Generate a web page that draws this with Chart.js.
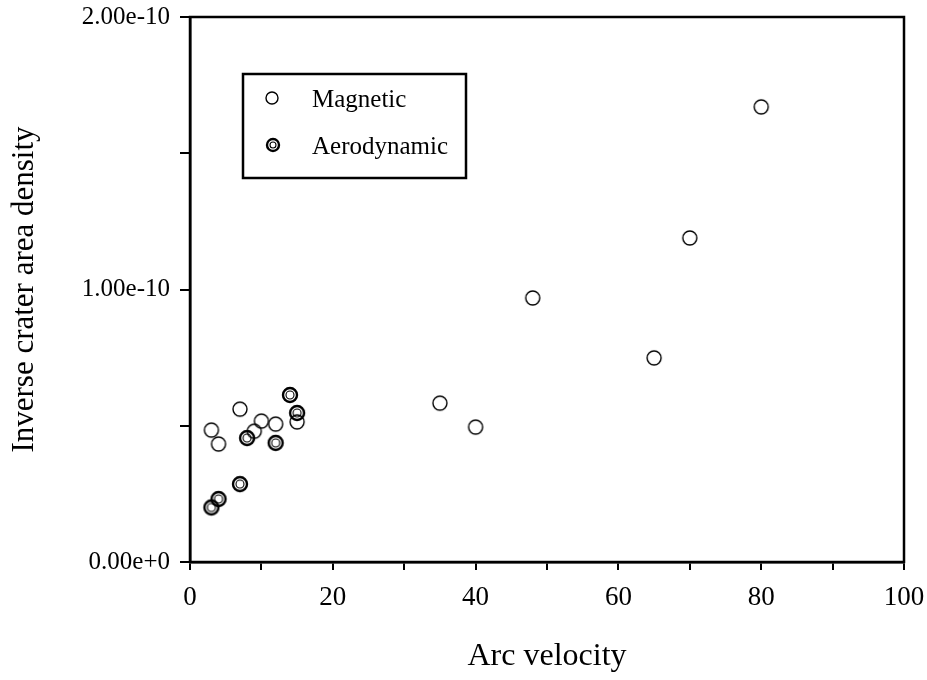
<!DOCTYPE html>
<html>
<head>
<meta charset="utf-8">
<script src="https://cdn.jsdelivr.net/npm/chart.js@4.4.0/dist/chart.umd.min.js"></script>
<style>
  html, body { margin: 0; padding: 0; background: #fff; }
  #wrap { width: 927px; height: 680px; }
</style>
</head>
<body>
<div id="wrap"><canvas id="chart" width="927" height="680"></canvas></div>
<script>
'use strict';

// data
let magneticX = [3, 4, 7, 9, 10, 12, 15, 35, 40, 48, 65, 70, 80];
let magneticY = [0.484e-10, 0.433e-10, 0.561e-10, 0.48e-10, 0.517e-10, 0.506e-10, 0.514e-10,
                 0.583e-10, 0.495e-10, 0.969e-10, 0.749e-10, 1.189e-10, 1.67e-10];
let aeroX = [3, 4, 7, 8, 12, 14, 15];
let aeroY = [0.2e-10, 0.231e-10, 0.286e-10, 0.455e-10, 0.437e-10, 0.613e-10, 0.547e-10];
let seriesNames = ['Magnetic', 'Aerodynamic'];
let yTickValues = [0, 1e-10, 2e-10];
let xTickValues = [0, 20, 40, 60, 80, 100];

let serif = '"Liberation Serif", "Times New Roman", serif';

// open ring marker; the aerodynamic one is a double ring
function ringMarker(double, r) {
  let s = Math.ceil(r * 2 + 6);
  let c = document.createElement('canvas');
  c.width = s; c.height = s;
  let g = c.getContext('2d');
  g.strokeStyle = '#000';
  g.lineWidth = double ? 2.4 : 1.4;
  g.beginPath(); g.arc(s / 2, s / 2, r, 0, Math.PI * 2); g.stroke();
  if (double) {
    g.lineWidth = 1.1;
    g.beginPath(); g.arc(s / 2, s / 2, r - 3, 0, Math.PI * 2); g.stroke();
  }
  return c;
}
let magMarker = ringMarker(false, 7);
let aeroMarker = ringMarker(true, 7);
let magLegend = ringMarker(false, 6);
let aeroLegend = ringMarker(true, 6);

function toPoints(xs, ys) {
  let pts = [];
  for (let i = 0; i < xs.length; i++) pts.push({ x: xs[i], y: ys[i] });
  return pts;
}

// box round the plot + legend box
let framePlugin = {
  id: 'frame',
  afterDraw(chart) {
    let ctx = chart.ctx;
    let a = chart.chartArea;
    ctx.save();
    ctx.strokeStyle = '#000';
    ctx.lineWidth = 2.5;
    ctx.strokeRect(a.left, a.top, a.right - a.left, a.bottom - a.top);

    // legend
    ctx.lineWidth = 2.5;
    ctx.strokeRect(243, 74, 223, 104);
    ctx.font = '25px ' + serif;
    ctx.fillStyle = '#000';
    ctx.textBaseline = 'middle';
    ctx.drawImage(magLegend, 272 - magLegend.width / 2, 98 - magLegend.height / 2);
    ctx.fillText(seriesNames[0], 312, 100);
    ctx.drawImage(aeroLegend, 273 - aeroLegend.width / 2, 145 - aeroLegend.height / 2);
    ctx.fillText(seriesNames[1], 312, 147);
    ctx.restore();
  }
};

let data = {
  datasets: [
    {
      label: seriesNames[0],
      data: toPoints(magneticX, magneticY),
      pointStyle: magMarker,
      showLine: false
    },
    {
      label: seriesNames[1],
      data: toPoints(aeroX, aeroY),
      pointStyle: aeroMarker,
      showLine: false
    }
  ]
};

let config = {
  type: 'scatter',
  data: data,
  options: {
    responsive: false,
    animation: false,
    layout: { padding: { top: 17, right: 23, left: 0, bottom: 0 } },
    plugins: {
      legend: { display: false },
      tooltip: { enabled: false }
    },
    scales: {
      x: {
        type: 'linear',
        min: 0,
        max: 100,
        afterFit(scale) {
          scale.height = 118;
          scale.paddingLeft = 0;
          scale.paddingRight = 0;
        },
        ticks: {
          stepSize: 10,
          color: '#000',
          font: { family: serif, size: 27 },
          padding: 12,
          maxRotation: 0,
          autoSkip: false,
          callback: function (v) {
            return xTickValues.indexOf(v) >= 0 ? String(v) : '';
          }
        },
        grid: { drawOnChartArea: false, tickLength: 8, color: '#000', lineWidth: 2 },
        border: { color: '#000', width: 2.5 },
        title: {
          display: true,
          text: 'Arc velocity',
          color: '#000',
          font: { family: serif, size: 32 },
          padding: { top: 0, bottom: 4 }
        }
      },
      y: {
        type: 'linear',
        min: 0,
        max: 2e-10,
        afterFit(scale) {
          scale.width = 190;
          scale.paddingTop = 0;
          scale.paddingBottom = 0;
        },
        ticks: {
          stepSize: 0.5e-10,
          color: '#000',
          font: { family: serif, size: 25 },
          padding: 10,
          autoSkip: false,
          callback: function (v) {
            for (let t of yTickValues) {
              if (Math.abs(v - t) < 1e-14) return t.toExponential(2);
            }
            return '';
          }
        },
        grid: { drawOnChartArea: false, tickLength: 10, color: '#000', lineWidth: 2 },
        border: { color: '#000', width: 2.5 },
        title: {
          display: true,
          text: 'Inverse crater area density',
          color: '#000',
          font: { family: serif, size: 31 },
          padding: { top: 6, bottom: 0 }
        }
      }
    }
  },
  plugins: [framePlugin]
};

new Chart(document.getElementById('chart'), config);
</script>
</body>
</html>
